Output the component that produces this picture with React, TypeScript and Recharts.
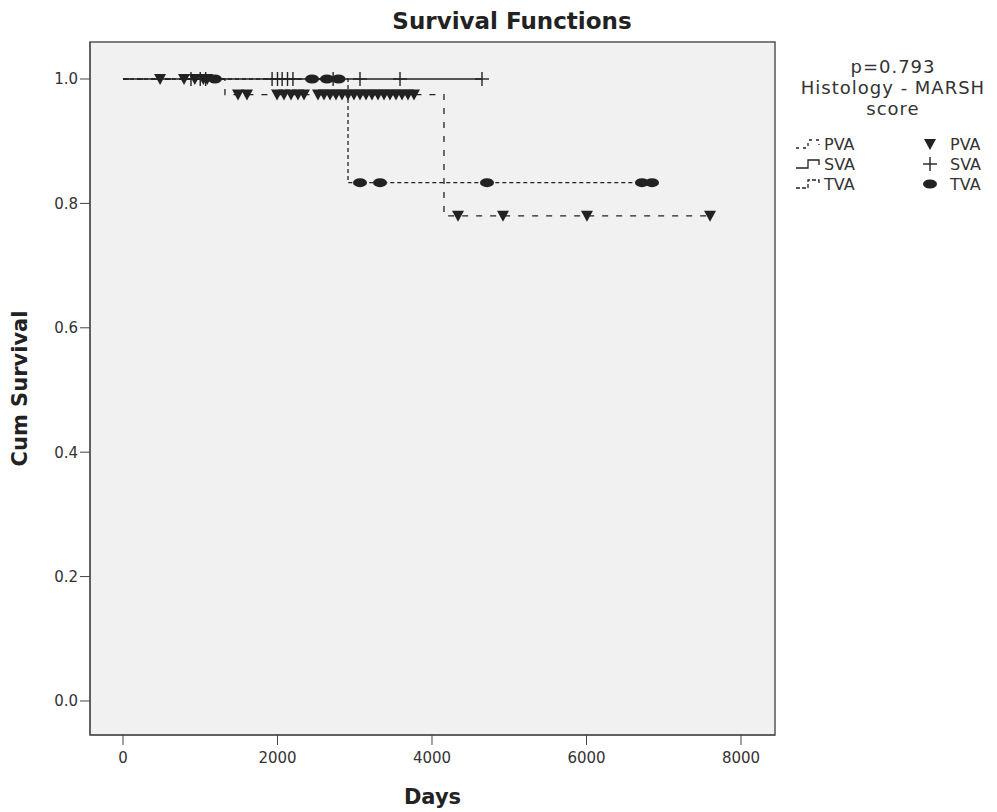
import { ComposedChart, Line, Scatter, XAxis, YAxis, ReferenceArea, Label } from 'recharts';

// Kaplan-Meier steps (days where the curve changes, survival after that day)
const pvaStepDays = [0, 1320, 4155, 7599];
const pvaStepSurv = [1, 0.975, 0.78, 0.78];
const svaStepDays = [0, 4647];
const svaStepSurv = [1, 1];
const tvaStepDays = [0, 2913, 6848];
const tvaStepSurv = [1, 0.8333, 0.8333];

// censored cases (days)
const pvaCensored = [
  480, 790, 930, 1040, 1090, 1489, 1605, 1994, 2084, 2175, 2265, 2343, 2524, 2602, 2680, 2757,
  2835, 2913, 2990, 3068, 3146, 3223, 3301, 3379, 3456, 3534, 3612, 3689, 3767, 4337, 4919, 6006, 7599,
];
const svaCensored = [880, 1000, 1070, 1930, 2000, 2060, 2130, 2200, 2720, 3068, 3586, 4647];
const tvaCensored = [1190, 2447, 2640, 2790, 3068, 3327, 4712, 6718, 6848];

const xTicks = [0, 2000, 4000, 6000, 8000];
const yTicks = [0, 0.2, 0.4, 0.6, 0.8, 1.0];

const X_MIN = -427;
const X_MAX = 8440;
const Y_MIN = -0.0547;
const Y_MAX = 1.0595;

const INK = '#222';
const FONT = '"DejaVu Sans", sans-serif';

const toSteps = (days: number[], surv: number[]) => days.map((d, i) => ({ days: d, surv: surv[i] }));

const survAt = (days: number[], surv: number[], t: number) => {
  let s = surv[0];
  days.forEach((d, i) => {
    if (d <= t) s = surv[i];
  });
  return s;
};

const toCensored = (times: number[], days: number[], surv: number[]) =>
  times.map((t) => ({ days: t, surv: survAt(days, surv, t) }));

const Triangle = ({ cx, cy }: any) => (
  <path d={`M${cx - 6},${cy - 5} L${cx + 6},${cy - 5} L${cx},${cy + 6} Z`} fill={INK} />
);

const Plus = ({ cx, cy }: any) => (
  <g stroke={INK} strokeWidth={1.4}>
    <line x1={cx} y1={cy - 7} x2={cx} y2={cy + 7} />
    <line x1={cx - 7} y1={cy} x2={cx + 7} y2={cy} />
  </g>
);

const Ellipse = ({ cx, cy }: any) => <ellipse cx={cx} cy={cy} rx={7} ry={4.5} fill={INK} />;

const StepSample = ({ dash }: { dash?: string }) => (
  <svg width={30} height={14} style={{ display: 'inline-block', verticalAlign: 'middle' }}>
    <path d="M2,11 H14 V3 H25 V8" fill="none" stroke={INK} strokeWidth={1.3} strokeDasharray={dash} />
  </svg>
);

const legendRows = [
  { name: 'PVA', dash: '3 4', marker: 'tri' },
  { name: 'SVA', dash: undefined, marker: 'plus' },
  { name: 'TVA', dash: '4 2', marker: 'ell' },
];

const MarkerSample = ({ kind }: { kind: string }) => (
  <svg width={36} height={18} style={{ display: 'inline-block', verticalAlign: 'middle' }}>
    {kind === 'tri' && <Triangle cx={18} cy={9} />}
    {kind === 'plus' && <Plus cx={18} cy={9} />}
    {kind === 'ell' && <Ellipse cx={18} cy={9} />}
  </svg>
);

export default function App() {
  return (
    <div style={{ position: 'absolute', left: 0, top: 0, width: 997, height: 812, background: '#fff', fontFamily: FONT }}>
      <div
        style={{
          position: 'absolute', left: 312, width: 400, top: 8, textAlign: 'center',
          fontSize: 23, fontWeight: 'bold', color: '#222',
        }}
      >
        Survival Functions
      </div>

      <ComposedChart width={997} height={812} margin={{ top: 42, right: 222, bottom: 27, left: 30 }}>
        <XAxis
          dataKey="days"
          type="number"
          domain={[X_MIN, X_MAX]}
          ticks={xTicks}
          allowDataOverflow
          height={50}
          tickSize={10}
          stroke="#444"
          tick={{ fill: '#333', fontSize: 15, fontFamily: FONT, dy: 5 }}
        >
          <Label value="Days" position="bottom" offset={4} style={{ fontSize: 21, fontWeight: 'bold', fill: '#222', fontFamily: FONT }} />
        </XAxis>
        <YAxis
          type="number"
          domain={[Y_MIN, Y_MAX]}
          ticks={yTicks}
          allowDataOverflow
          width={60}
          tickSize={10}
          stroke="#444"
          tickFormatter={(v: number) => v.toFixed(1)}
          tick={{ fill: '#333', fontSize: 15, fontFamily: FONT }}
        >
          <Label
            value="Cum Survival"
            angle={-90}
            position="insideLeft"
            offset={-10}
            style={{ textAnchor: 'middle', fontSize: 21, fontWeight: 'bold', fill: '#222', fontFamily: FONT }}
          />
        </YAxis>
        <ReferenceArea x1={X_MIN} x2={X_MAX} y1={Y_MIN} y2={Y_MAX} fill="#f1f1f1" fillOpacity={1} stroke="#555" strokeWidth={1.5} />

        <Line data={toSteps(pvaStepDays, pvaStepSurv)} dataKey="surv" type="stepAfter" stroke={INK} strokeWidth={1.3} strokeDasharray="6 8" dot={false} isAnimationActive={false} />
        <Line data={toSteps(svaStepDays, svaStepSurv)} dataKey="surv" type="stepAfter" stroke={INK} strokeWidth={1.3} dot={false} isAnimationActive={false} />
        <Line data={toSteps(tvaStepDays, tvaStepSurv)} dataKey="surv" type="stepAfter" stroke={INK} strokeWidth={1.3} strokeDasharray="4 3" dot={false} isAnimationActive={false} />

        <Scatter data={toCensored(pvaCensored, pvaStepDays, pvaStepSurv)} dataKey="surv" shape={Triangle} isAnimationActive={false} />
        <Scatter data={toCensored(svaCensored, svaStepDays, svaStepSurv)} dataKey="surv" shape={Plus} isAnimationActive={false} />
        <Scatter data={toCensored(tvaCensored, tvaStepDays, tvaStepSurv)} dataKey="surv" shape={Ellipse} isAnimationActive={false} />
      </ComposedChart>

      <div
        style={{
          position: 'absolute', left: 783, width: 220, top: 56, textAlign: 'center',
          fontSize: 18, lineHeight: '21px', letterSpacing: 1, color: '#333',
        }}
      >
        p=0.793
        <br />
        Histology - MARSH
        <br />
        score
      </div>
      <div style={{ position: 'absolute', left: 794, top: 134, fontSize: 16, color: '#333' }}>
        {legendRows.map((r) => (
          <div key={r.name} style={{ display: 'flex', alignItems: 'center', height: 20 }}>
            <div style={{ width: 118, display: 'flex', alignItems: 'center' }}>
              <StepSample dash={r.dash} />
              <span>{r.name}</span>
            </div>
            <MarkerSample kind={r.marker} />
            <span style={{ marginLeft: 2 }}>{r.name}</span>
          </div>
        ))}
      </div>
    </div>
  );
}
